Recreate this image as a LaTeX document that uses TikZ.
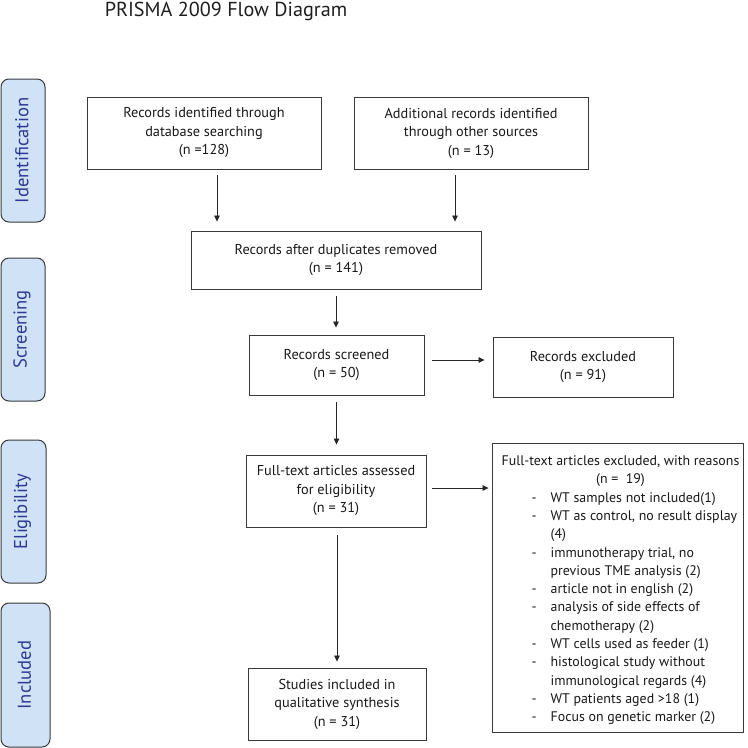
\documentclass[tikz,border=0pt]{standalone}
\usepackage{fontspec}
\setmainfont{PT Sans}
\usetikzlibrary{arrows.meta,positioning,calc}
\definecolor{phasefill}{HTML}{CFE2F6}
\definecolor{phasetext}{HTML}{2E3A92}
\definecolor{boxline}{HTML}{3A3A3A}
\begin{document}
\begin{tikzpicture}[x=1pt,y=-1pt,
  flowbox/.style={draw=boxline, line width=0.9pt, align=center, inner sep=2pt,
    font=\fontsize{14.3}{18.5}\selectfont, text=black!90},
  phase/.style={draw=boxline, line width=1pt, fill=phasefill, rounded corners=8pt,
    inner sep=0pt},
  phasetxt/.style={rotate=90, text=phasetext, font=\fontsize{18.6}{20}\selectfont},
  arr/.style={draw=black!85, line width=0.8pt, -{Triangle[length=6pt,width=5.5pt]}}]
\useasboundingbox (0,0) rectangle (748,748);
\fill[white] (0,0) rectangle (748,748);

\node[anchor=base, font=\fontsize{20.2}{23}\selectfont, text=black!88] (title) at (226,16) {PRISMA 2009 Flow Diagram};

% phase labels
\node[phase, minimum width=44pt, minimum height=143pt] (pid) at (23,150.5) {};
\node[phasetxt] (pidt) at ([xshift=-1pt]pid.center) {Identification};
\node[phase, minimum width=44pt, minimum height=143pt] (psc) at (23,329.5) {};
\node[phasetxt] (psct) at ([xshift=-1pt]psc.center) {Screening};
\node[phase, minimum width=45pt, minimum height=143pt] (pel) at (23.5,511.5) {};
\node[phasetxt] (pelt) at ([xshift=-1pt]pel.center) {Eligibility};
\node[phase, minimum width=49pt, minimum height=144pt] (pin) at (25.5,675) {};
\node[phasetxt] (pint) at ([xshift=-1pt]pin.center) {Included};

% boxes
\node[flowbox, minimum width=234pt, minimum height=72pt] (b1) at (204,133)
  {Records identified through\\database searching\\(n =128)};
\node[flowbox, minimum width=234pt, minimum height=72pt] (b2) at (471,133)
  {Additional records identified\\through other sources\\(n = 13)};
\node[flowbox, minimum width=290pt, minimum height=58pt] (b3) at (336,260)
  {Records after duplicates removed\\(n = 141)};
\node[flowbox, minimum width=175pt, minimum height=60pt] (b4) at (336.5,365)
  {Records screened\\(n = 50)};
\node[flowbox, minimum width=180pt, minimum height=60pt] (b5) at (583,367)
  {Records excluded\\(n = 91)};
\node[flowbox, minimum width=180pt, minimum height=72pt] (b6) at (336,491)
  {Full-text articles assessed\\for eligibility\\(n = 31)};
\node[flowbox, minimum width=178pt, minimum height=72pt] (b8) at (337,704)
  {Studies included in\\qualitative synthesis\\(n = 31)};
\node[flowbox, minimum width=251pt, minimum height=289pt, inner sep=0pt] (b7) at (617.5,587.5) {};
\node[anchor=north, inner sep=0pt, text=black!90, font=\fontsize{13.9}{18.3}\selectfont] (b7t) at ([xshift=3pt,yshift=-10pt]b7.north)
  {\begin{tabular}{@{\hspace*{30pt}}l@{\hspace{14pt}}l@{}}
   \multicolumn{2}{@{}c@{}}{Full-text articles excluded, with reasons}\\
   \multicolumn{2}{@{}c@{}}{(n = \ 19)}\\
   - & WT samples not included(1)\\
   - & WT as control, no result display\\
     & (4)\\
   - & immunotherapy trial, no\\
     & previous TME analysis (2)\\
   - & article not in english (2)\\
   - & analysis of side effects of\\
     & chemotherapy (2)\\
   - & WT cells used as feeder (1)\\
   - & histological study without\\
     & immunological regards (4)\\
   - & WT patients aged >18 (1)\\
   - & Focus on genetic marker (2)
   \end{tabular}};

% arrows
\draw[arr, shorten <=6pt, shorten >=9pt] ([xshift=13pt]b1.south) -- ([xshift=13pt]b1.south |- b3.north);
\draw[arr, shorten <=6pt, shorten >=9pt] ([xshift=-16pt]b2.south) -- ([xshift=-16pt]b2.south |- b3.north);
\draw[arr, shorten <=7pt, shorten >=7pt] (b3.south) -- (b3.south |- b4.north);
\draw[arr, shorten <=8pt, shorten >=8pt] ([yshift=5pt]b4.east) -- ([yshift=5pt]b4.east -| b5.west);
\draw[arr, shorten <=7pt, shorten >=10pt] (b4.south) -- (b4.south |- b6.north);
\draw[arr, shorten <=6pt, shorten >=3pt] ([yshift=3pt]b6.east) -- ([yshift=3pt]b6.east -| b7.west);
\draw[arr, shorten <=8pt, shorten >=6pt] ([xshift=1pt]b6.south) -- ([xshift=1pt]b6.south |- b8.north);
\end{tikzpicture}
\end{document}
